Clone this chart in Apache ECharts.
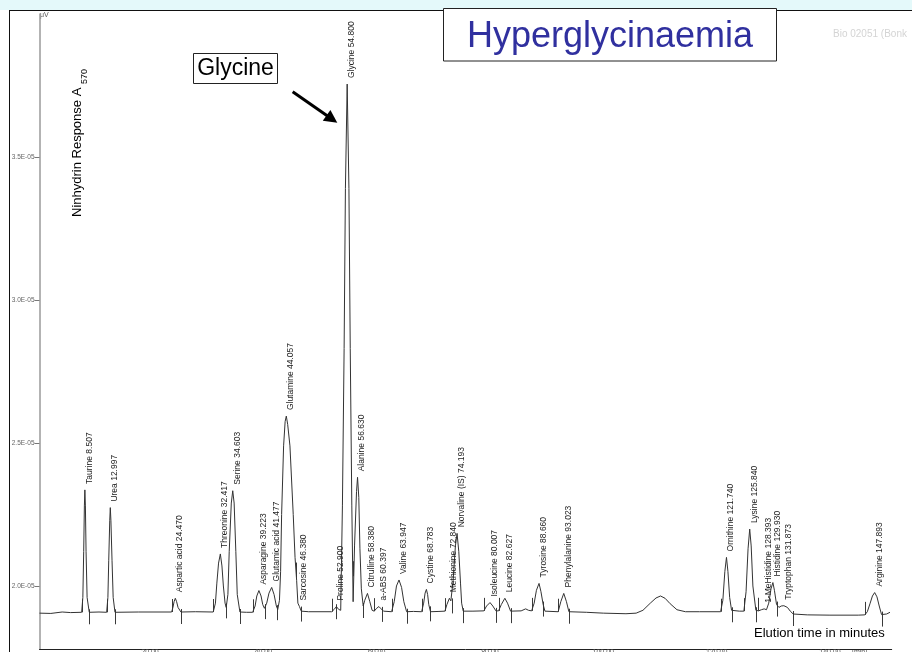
<!DOCTYPE html>
<html>
<head>
<meta charset="utf-8">
<script src="https://cdn.jsdelivr.net/npm/echarts@6/dist/echarts.min.js"></script>
<style>
  html, body { margin: 0; padding: 0; background: #ffffff; }
  #chart { width: 912px; height: 652px; }
</style>
</head>
<body>
<div id="chart"></div>
<script>
// Amino acid chromatogram (ninhydrin detection at 570 nm), plasma sample with hyperglycinaemia.
// Signal values are in units of 1E-05; time in minutes.

// Detector trace: [elution time, response]
const trace = [
  [0.5, 1.905], [2.5, 1.904], [4.5, 1.909], [6.0, 1.907], [7.94, 1.908],
  // Taurine
  [8.15, 1.96], [8.30, 2.12], [8.42, 2.28], [8.507, 2.336], [8.60, 2.28], [8.72, 2.12], [8.90, 1.96], [9.28, 1.908],
  [11.0, 1.909], [12.35, 1.908],
  // Urea
  [12.57, 1.96], [12.72, 2.09], [12.90, 2.23], [12.997, 2.274], [13.10, 2.23], [13.30, 2.09], [13.50, 1.96], [13.82, 1.908],
  [18.0, 1.909], [23.82, 1.909],
  // Aspartic acid
  [24.05, 1.925], [24.25, 1.945], [24.47, 1.957], [24.70, 1.945], [24.95, 1.925], [25.46, 1.909],
  [28.0, 1.910], [31.16, 1.909],
  // Threonine
  [31.55, 1.94], [31.80, 2.01], [32.10, 2.08], [32.417, 2.112], [32.70, 2.07], [32.95, 2.00], [33.25, 1.94], [33.45, 1.925],
  // Serine
  [33.75, 1.97], [33.98, 2.12], [34.35, 2.29], [34.603, 2.333], [34.85, 2.29], [35.15, 2.12], [35.40, 1.97], [35.87, 1.909],
  [37.0, 1.908], [38.12, 1.908],
  // Asparagine
  [38.55, 1.93], [38.85, 1.965], [39.223, 1.984], [39.6, 1.965], [39.9, 1.935], [40.2, 1.922],
  // Glutamic acid
  [40.6, 1.94], [41.0, 1.975], [41.477, 1.995], [41.9, 1.97], [42.3, 1.93], [42.55, 1.918],
  // Glutamine
  [42.85, 1.95], [43.05, 2.05], [43.23, 2.25], [43.58, 2.49], [43.85, 2.575], [44.057, 2.594], [44.30, 2.565],
  [44.70, 2.49], [45.28, 2.25], [45.60, 2.10], [45.88, 2.02], [46.10, 1.94],
  // Sarcosine
  [46.38, 1.928], [46.70, 1.912], [48.0, 1.910], [52.06, 1.910],
  // Proline
  [52.5, 1.918], [52.9, 1.928], [53.3, 1.918], [53.66, 1.915],
  // Glycine
  [53.96, 2.28], [54.26, 2.83], [54.49, 3.39], [54.8, 3.755], [55.11, 3.39], [55.34, 2.83], [55.62, 2.28], [55.85, 1.945],
  // Alanine
  [56.1, 2.14], [56.45, 2.33], [56.63, 2.380], [56.85, 2.31], [57.05, 2.13], [57.3, 1.99], [57.63, 1.93],
  // Citrulline
  [57.9, 1.95], [58.38, 1.974], [58.8, 1.945], [59.2, 1.915],
  // a-ABS
  [59.57, 1.912], [60.0, 1.922], [60.397, 1.928], [60.8, 1.920], [61.2, 1.912],
  // Valine
  [62.64, 1.910], [63.1, 1.945], [63.5, 2.0], [63.947, 2.021], [64.4, 1.995], [64.8, 1.945], [65.29, 1.910],
  [66.5, 1.911],
  // Cystine
  [67.94, 1.910], [68.3, 1.94], [68.55, 1.975], [68.783, 1.988], [69.0, 1.97], [69.2, 1.935], [69.5, 1.910],
  [71.0, 1.911], [72.05, 1.912],
  // Methionine
  [72.4, 1.935], [72.84, 1.957], [73.1, 1.948], [73.3, 1.945],
  // Norvaline (internal standard)
  [73.5, 2.02], [73.9, 2.14], [74.193, 2.184], [74.5, 2.12], [74.8, 2.01], [75.0, 1.94], [75.28, 1.912],
  [77.0, 1.912], [78.93, 1.913],
  // Isoleucine
  [79.4, 1.93], [80.007, 1.942], [80.5, 1.93], [81.05, 1.913],
  // Leucine
  [81.52, 1.913], [82.0, 1.935], [82.627, 1.957], [83.1, 1.94], [83.64, 1.912],
  [85.5, 1.913], [86.3, 1.92], [86.8, 1.915], [87.35, 1.913],
  // Tyrosine
  [87.8, 1.94], [88.2, 1.985], [88.66, 2.009], [89.0, 1.98], [89.39, 1.935], [89.7, 1.912],
  [92.04, 1.910],
  // Phenylalanine
  [92.5, 1.945], [93.023, 1.974], [93.5, 1.945], [93.93, 1.910],
  [97.0, 1.908], [100.0, 1.905], [104.0, 1.903], [105.8, 1.905],
  // unassigned broad peak
  [107.0, 1.915], [108.3, 1.94], [109.3, 1.958], [110.1, 1.965], [110.9, 1.957], [111.8, 1.938], [113.0, 1.917], [114.5, 1.910],
  [117.0, 1.910], [120.7, 1.910],
  // Ornithine
  [121.1, 1.95], [121.45, 2.05], [121.74, 2.100], [122.0, 2.05], [122.3, 1.96], [122.64, 1.915],
  [124.0, 1.912], [124.81, 1.912],
  // Lysine
  [125.2, 1.98], [125.55, 2.13], [125.84, 2.199], [126.1, 2.14], [126.4, 2.0], [126.93, 1.915],
  // 1-Methylhistidine
  [127.4, 1.913], [127.9, 1.917], [128.393, 1.920], [128.8, 1.917],
  // Histidine
  [129.2, 1.94], [129.6, 1.99], [129.93, 2.012], [130.2, 1.985], [130.58, 1.935],
  // Tryptophan
  [131.0, 1.925], [131.4, 1.930], [131.873, 1.931], [132.5, 1.925], [133.0, 1.912], [133.52, 1.902],
  [136.0, 1.899], [140.0, 1.898], [145.0, 1.898], [146.16, 1.899],
  // Arginine
  [146.6, 1.91], [147.1, 1.94], [147.5, 1.965], [147.893, 1.977], [148.3, 1.962], [148.7, 1.93], [149.11, 1.900],
  [150.0, 1.902], [150.6, 1.908]
];

// Identified peaks and their retention times (min)
const peakNames = [
  'Taurine', 'Urea', 'Aspartic acid', 'Threonine', 'Serine', 'Asparagine', 'Glutamic acid',
  'Glutamine', 'Sarcosine', 'Proline', 'Glycine', 'Alanine', 'Citrulline', 'a-ABS', 'Valine',
  'Cystine', 'Methionine', 'Norvaline (IS)', 'Isoleucine', 'Leucine', 'Tyrosine', 'Phenylalanine',
  'Ornithine', 'Lysine', '1-MeHistidine', 'Histidine', 'Tryptophan', 'Arginine'
];
const peakTimes = [
  8.507, 12.997, 24.470, 32.417, 34.603, 39.223, 41.477,
  44.057, 46.380, 52.900, 54.800, 56.630, 58.380, 60.397, 63.947,
  68.783, 72.840, 74.193, 80.007, 82.627, 88.660, 93.023,
  121.740, 125.840, 128.393, 129.930, 131.873, 147.893
];

// Integration events: peak start and peak end marks (min)
const peakStartMarks = [7.94, 12.35, 23.82, 31.16, 38.12, 52.06, 59.57, 62.64, 67.94, 72.05, 78.93, 81.52,
  87.35, 92.04, 120.70, 124.81, 127.33, 146.16];
const peakEndMarks = [9.28, 13.82, 25.46, 33.40, 35.87, 40.29, 42.46, 45.70, 46.59, 52.81, 55.76, 57.63,
  60.98, 65.29, 69.40, 73.23, 75.28, 81.05, 83.64, 89.39, 93.93, 122.64, 126.93, 130.58, 133.52, 149.11];

// Axis ticks
const timeTicks = [20, 40, 60, 80, 100, 120, 140];
const responseTicks = [2.0, 2.5, 3.0, 3.5];

const FONT = '"Liberation Sans", Arial, Helvetica, sans-serif';

// response of the trace at a given time (for placing the event marks on the curve)
function traceAt(t) {
  for (let i = 1; i < trace.length; i++) {
    const a = trace[i - 1], b = trace[i];
    if (t <= b[0]) {
      const f = (t - a[0]) / (b[0] - a[0]);
      return a[1] + f * (b[1] - a[1]);
    }
  }
  return trace[trace.length - 1][1];
}

function apexOf(t) {
  const p = trace.find(d => Math.abs(d[0] - t) < 1e-6);
  return p ? p[1] : traceAt(t);
}

const labelData = peakTimes.map((t, i) => [t, apexOf(t), i]);
const markData = peakStartMarks.map(t => [t, traceAt(t), 1])
  .concat(peakEndMarks.map(t => [t, traceAt(t), 0]));

const chart = echarts.init(document.getElementById('chart'), null, { renderer: 'canvas' });

chart.setOption({
  animation: false,
  backgroundColor: '#ffffff',
  grid: { left: 39.5, top: 14, width: 852.2, height: 634.9, containLabel: false, outerBoundsMode: 'none' },
  xAxis: {
    type: 'value',
    min: 0.5,
    max: 150.9,
    axisLine: { show: true, onZero: false, lineStyle: { color: '#222', width: 1 } },
    axisTick: { show: false },
    splitLine: { show: false },
    axisLabel: {
      customValues: timeTicks,
      formatter: v => v.toFixed(2),
      fontSize: 7,
      fontFamily: FONT,
      color: '#555',
      margin: 0
    }
  },
  yAxis: {
    type: 'value',
    min: 1.78,
    max: 4.0,
    axisLine: { show: true, onZero: false, lineStyle: { color: '#9a9a9a', width: 1.5 } },
    axisTick: { show: true, customValues: responseTicks, length: 5, lineStyle: { color: '#777', width: 1 } },
    splitLine: { show: false },
    axisLabel: {
      customValues: responseTicks,
      formatter: v => v.toFixed(1) + 'E-05',
      fontSize: 6.5,
      fontFamily: FONT,
      color: '#666',
      margin: 5
    }
  },
  series: [
    {
      type: 'line',
      data: trace,
      symbol: 'none',
      lineStyle: { color: '#333333', width: 1 },
      z: 3
    },
    {
      type: 'custom',
      data: markData,
      encode: { x: 0, y: 1 },
      z: 2,
      renderItem: (params, api) => {
        const p = api.coord([api.value(0), api.value(1)]);
        const x = Math.round(p[0]) + 0.5;
        const isStart = api.value(2) === 1;
        const y1 = isStart ? p[1] - 13 : p[1] - 3;
        const y2 = isStart ? p[1] : p[1] + 12;
        return {
          type: 'line',
          shape: { x1: x, y1: y1, x2: x, y2: y2 },
          style: { stroke: '#3a3a3a', lineWidth: 1 }
        };
      }
    },
    {
      type: 'custom',
      data: labelData,
      encode: { x: 0, y: 1 },
      z: 4,
      clip: false,
      renderItem: (params, api) => {
        const p = api.coord([api.value(0), api.value(1)]);
        const i = api.value(2);
        return {
          type: 'text',
          x: p[0] + 4.5,
          y: p[1] - 6,
          rotation: Math.PI / 2,
          style: {
            text: peakNames[i] + ' ' + peakTimes[i].toFixed(3),
            fill: '#222',
            font: '8.5px ' + FONT,
            align: 'left',
            verticalAlign: 'middle'
          }
        };
      }
    }
  ],
  graphic: [
    { type: 'rect', shape: { x: 0, y: 0, width: 912, height: 10 }, style: { fill: '#e4f9fa' }, silent: true },
    { type: 'line', shape: { x1: 9, y1: 10.5, x2: 912, y2: 10.5 }, style: { stroke: '#111', lineWidth: 1 } },
    { type: 'line', shape: { x1: 9.5, y1: 10, x2: 9.5, y2: 652 }, style: { stroke: '#111', lineWidth: 1 } },
    { type: 'text', x: 40, y: 15, style: { text: 'μV', font: '7px ' + FONT, fill: '#555', align: 'left', verticalAlign: 'middle' } },
    // title box
    { type: 'rect', shape: { x: 443.5, y: 8.5, width: 333, height: 52.5 }, style: { fill: '#ffffff', stroke: '#222', lineWidth: 1 } },
    { type: 'text', x: 610, y: 37, style: { text: 'Hyperglycinaemia', font: '36px ' + FONT, fill: '#30309f', align: 'center', verticalAlign: 'middle' } },
    { type: 'text', x: 833, y: 34, style: { text: 'Bio 02051 (Bonk', font: '10px ' + FONT, fill: '#d4d4d4', align: 'left', verticalAlign: 'middle' } },
    // glycine callout
    { type: 'rect', shape: { x: 193.5, y: 53.5, width: 84, height: 30 }, style: { fill: '#ffffff', stroke: '#222', lineWidth: 1 } },
    { type: 'text', x: 235.5, y: 69, style: { text: 'Glycine', font: '23px ' + FONT, fill: '#000', align: 'center', verticalAlign: 'middle' } },
    { type: 'line', shape: { x1: 292.7, y1: 91.7, x2: 327.5, y2: 116 }, style: { stroke: '#000', lineWidth: 3 } },
    { type: 'polygon', shape: { points: [[337.3, 122.7], [330.4, 109.9], [322.8, 120.7]] }, style: { fill: '#000' } },
    // response axis title
    { type: 'text', x: 77.5, y: 217, rotation: Math.PI / 2, style: { text: 'Ninhydrin Response A', font: '13px ' + FONT, fill: '#000', align: 'left', verticalAlign: 'middle' } },
    { type: 'text', x: 85, y: 84, rotation: Math.PI / 2, style: { text: '570', font: '9px ' + FONT, fill: '#000', align: 'left', verticalAlign: 'middle' } },
    // time axis captions
    { type: 'text', x: 852, y: 649, style: { text: '[min]', font: '7px ' + FONT, fill: '#555', align: 'left', verticalAlign: 'top' } },
    { type: 'text', x: 754, y: 633, style: { text: 'Elution time in minutes', font: '13px ' + FONT, fill: '#000', align: 'left', verticalAlign: 'middle' } }
  ]
});
</script>
</body>
</html>
